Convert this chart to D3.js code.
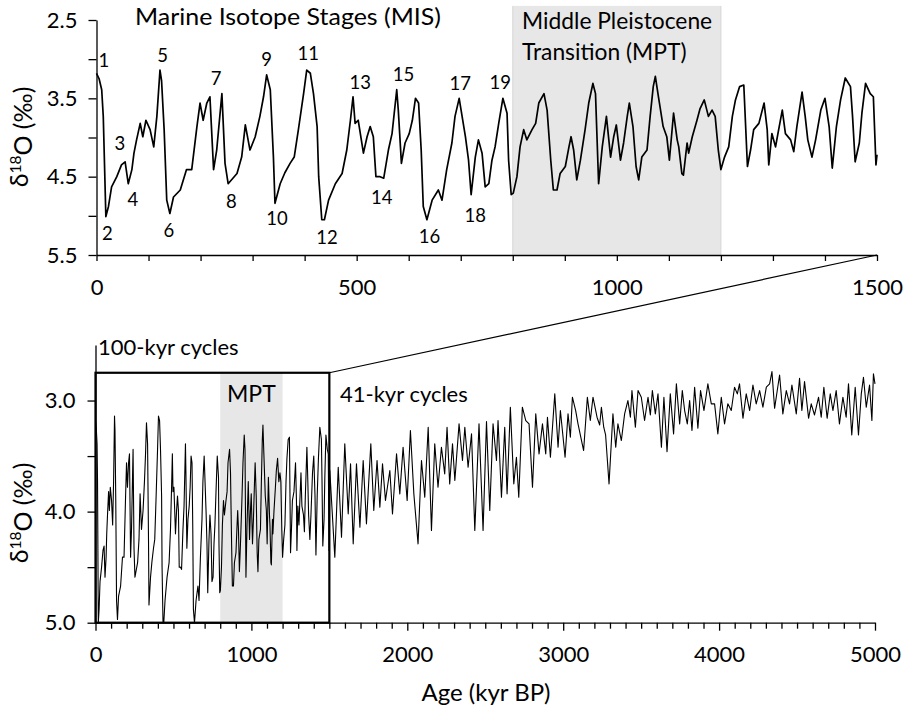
<!DOCTYPE html>
<html lang="en">
<head>
<meta charset="utf-8">
<title>Benthic d18O stack</title>
<script src="https://d3js.org/d3.v7.min.js"></script>
<style>
body { margin: 0; background: #fff; }
svg { display: block; font-family: Lato, "Open Sans", sans-serif; }
.axis path, .axis line { stroke: #000; stroke-width: 1.3; }
.axis text { font-size: 22px; fill: #000; font-family: Lato, "Open Sans", sans-serif; }
.curve { fill: none; stroke: #000; stroke-linejoin: round; }
.note { fill: #000; }
</style>
</head>
<body>
<div id="container"></div>
<script>
var w = 908;
var h = 712;

// 0-1500 kyr BP
var ageRecent = [0,5,10,13,18,23,29,39,48,55,61,68,72,77,84,89,95,103,110,116,122,125,130,135,141,148,161,173,183,193,199,205,212,218,225,231,241,247,253,270,279,286,295,305,314,321,327,334,340,343,353,362,372,380,388,398,404,411,417,424,427,433,438,446,459,472,481,488,493,497,503,513,520,526,532,537,545,552,561,568,577,580,586,593,601,607,613,619,624,628,635,645,657,664,673,683,689,697,709,715,720,728,734,741,747,754,760,766,773,781,789,792,797,801,808,814,821,827,837,844,850,860,866,873,878,885,891,901,908,912,917,923,930,939,946,954,959,965,972,980,988,994,999,1007,1013,1020,1024,1031,1037,1042,1048,1058,1064,1070,1074,1080,1089,1096,1101,1109,1116,1119,1125,1128,1135,1138,1145,1154,1160,1168,1176,1183,1189,1195,1200,1207,1215,1222,1228,1236,1244,1251,1257,1263,1273,1283,1289,1292,1298,1305,1311,1318,1324,1334,1340,1346,1356,1362,1367,1375,1382,1392,1400,1408,1414,1422,1430,1439,1449,1453,1458,1466,1471,1478,1487,1493,1498,1500];
var d18oRecent = [3.18,3.25,3.39,3.73,5.01,4.88,4.63,4.50,4.35,4.31,4.59,4.41,4.20,4.03,3.82,3.99,3.78,3.90,4.12,3.73,3.14,3.27,3.90,4.80,4.97,4.76,4.67,4.41,4.41,3.86,3.56,3.78,3.56,3.48,4.41,4.16,3.44,4.33,4.59,4.46,4.25,3.84,4.16,3.99,3.73,3.48,3.20,3.39,4.25,4.84,4.59,4.45,4.33,4.25,3.90,3.44,3.14,3.18,3.44,3.86,4.50,5.05,5.05,4.80,4.59,4.46,4.16,3.78,3.48,3.82,3.78,4.20,3.99,3.86,3.99,4.50,4.50,4.52,4.16,3.95,3.39,3.65,4.33,4.07,3.95,3.78,3.50,3.56,4.16,4.88,5.05,4.80,4.67,4.80,4.41,4.07,3.73,3.50,3.99,4.29,4.73,4.25,4.03,4.20,4.63,4.59,4.29,4.12,3.82,3.50,3.69,4.29,4.73,4.71,4.50,4.12,3.90,4.03,3.90,3.82,3.56,3.44,3.65,4.29,4.67,4.67,4.46,4.37,4.12,3.99,4.16,4.54,4.29,3.90,3.56,3.31,3.44,4.59,4.12,3.73,4.25,3.99,3.84,4.29,4.07,3.73,3.56,3.86,4.37,4.54,4.25,4.16,3.73,3.35,3.22,3.48,3.86,3.99,4.29,3.69,4.03,4.12,4.46,4.48,4.07,4.20,3.99,3.78,3.63,3.52,3.73,3.65,3.73,4.16,4.41,4.25,4.12,3.73,3.52,3.35,3.33,4.37,4.16,3.90,3.82,3.56,3.90,4.35,3.95,4.12,3.90,3.65,3.95,4.03,4.18,3.86,3.42,3.73,4.03,4.25,4.03,3.65,3.50,3.86,4.39,3.86,3.52,3.24,3.35,3.73,4.31,4.07,3.69,3.31,3.44,3.48,4.35,4.22];

// 1500-5000 kyr BP
var ageOld = [1503,1535,1557,1578,1599,1621,1636,1653,1674,1696,1717,1738,1766,1785,1806,1824,1841,1860,1888,1905,1931,1952,1973,1999,2020,2042,2069,2091,2112,2134,2155,2176,2197,2219,2240,2255,2272,2290,2305,2332,2354,2369,2390,2412,2433,2460,2486,2508,2529,2550,2572,2582,2604,2625,2640,2661,2683,2700,2715,2738,2760,2781,2803,2824,2845,2867,2888,2899,2918,2946,2967,2982,3012,3031,3046,3059,3080,3095,3131,3155,3174,3191,3217,3234,3245,3260,3272,3294,3319,3337,3351,3373,3394,3415,3431,3441,3463,3480,3501,3522,3544,3559,3572,3591,3608,3630,3646,3666,3687,3708,3726,3747,3764,3779,3796,3811,3826,3843,3864,3881,3903,3928,3950,3971,3992,4014,4035,4056,4078,4099,4117,4131,4153,4174,4196,4217,4238,4260,4281,4303,4324,4339,4356,4373,4388,4409,4431,4452,4467,4495,4516,4531,4548,4574,4591,4612,4638,4655,4672,4693,4713,4730,4751,4772,4794,4815,4830,4851,4873,4894,4912,4926,4944,4965,4980,4990,5000];
var d18oOld = [3.63,4.41,3.60,4.23,3.39,4.02,3.57,4.29,3.57,4.14,3.54,4.11,3.39,3.99,3.54,3.96,3.57,3.90,3.63,4.02,3.48,3.84,3.42,3.90,3.27,3.84,4.29,3.54,3.87,3.24,4.17,3.39,3.78,3.42,3.66,3.24,3.75,3.39,3.72,3.21,3.54,3.24,3.60,3.30,4.17,3.21,4.17,3.19,3.99,3.21,3.54,3.18,3.87,3.24,3.84,3.06,3.75,3.51,3.87,3.06,3.18,3.21,3.78,3.12,3.48,3.21,3.48,3.15,3.51,2.94,3.42,3.09,3.51,3.12,3.33,2.97,3.09,3.21,3.45,2.97,3.18,2.97,3.15,3.22,3.06,3.24,3.31,3.75,3.12,3.42,3.21,3.36,3.12,3.00,3.15,2.91,3.24,2.91,2.97,3.18,2.97,3.13,2.91,3.12,2.94,3.42,2.97,3.46,2.94,3.30,2.85,3.21,2.91,3.09,3.21,3.00,3.27,2.88,3.25,2.91,3.09,2.85,3.03,3.03,3.30,2.97,3.21,3.03,3.09,2.88,2.94,2.85,3.16,2.94,3.09,2.86,3.03,2.91,3.06,2.88,2.85,2.74,3.07,2.91,2.77,3.12,2.91,3.03,2.86,3.12,2.80,3.09,2.83,3.16,3.03,3.13,2.97,3.15,2.88,3.16,2.94,3.09,2.91,3.21,2.97,3.15,2.85,3.31,2.88,3.31,2.94,2.79,3.06,2.86,3.18,2.76,2.85];

// Marine Isotope Stage labels (label centre in age / d18O)
var misNames = ["1","2","3","4","5","6","7","8","9","10","11","12","13","14","15","16","17","18","19"];
var misAge = [14,21,45,70,127,139,230,259,327,347,407,443,507,548,590,640,699,728,776];
var misVal = [3.02,5.22,4.08,4.79,2.95,5.18,3.25,4.81,3.00,5.03,2.93,5.27,3.29,4.76,3.19,5.26,3.31,4.99,3.29];

var mptRange = [800, 1200];
var zoomRange = [0, 1500];
var topYTicks = [2.5, 3.0, 3.5, 4.0, 4.5, 5.0, 5.5];
var topYLabels = [2.5, 3.5, 4.5, 5.5];
var topXLabels = [0, 500, 1000, 1500];
var botYTicks = [3.0, 3.5, 4.0, 4.5, 5.0];
var botYLabels = [3.0, 4.0, 5.0];
var botXLabels = [0, 1000, 2000, 3000, 4000, 5000];

var recent = ageRecent.map(function(a, i) { return {age: a, v: d18oRecent[i]}; });
var old = ageOld.map(function(a, i) { return {age: a, v: d18oOld[i]}; });
var full = recent.concat(old);

var svg = d3.select("div#container").append("svg")
    .attr("width", w).attr("height", h)
    .attr("viewBox", "0 0 " + w + " " + h)
    .style("background-color", "#ffffff");

// ---------- upper panel ----------
var x1 = d3.scaleLinear().domain([0, 1500]).range([96.5, 877]);
var y1 = d3.scaleLinear().domain([2.5, 5.5]).range([20, 255]);

svg.append("rect")
    .attr("x", x1(mptRange[0])).attr("y", y1(2.32))
    .attr("width", x1(mptRange[1]) - x1(mptRange[0]))
    .attr("height", y1(5.5) - y1(2.32))
    .attr("fill", "#e7e7e7");
svg.selectAll(".mptEdge").data(mptRange).enter().append("line")
    .attr("x1", function(d) { return x1(d); }).attr("x2", function(d) { return x1(d); })
    .attr("y1", y1(2.32)).attr("y2", y1(5.5))
    .attr("stroke", "#d6d6d6").attr("stroke-width", 1);

var line1 = d3.line().x(function(d) { return x1(d.age); }).y(function(d) { return y1(d.v); });
svg.append("path").datum(recent).attr("class", "curve")
    .attr("stroke-width", 1.7).attr("d", line1);

svg.append("g").attr("class", "axis")
    .attr("transform", "translate(" + x1(0) + ",0)")
    .call(d3.axisLeft(y1).tickValues(topYTicks).tickSize(8).tickSizeOuter(0).tickPadding(11)
        .tickFormat(function(d) { return topYLabels.indexOf(d) >= 0 ? d3.format(".1f")(d) : ""; }));

svg.append("g").attr("class", "axis")
    .attr("transform", "translate(0," + y1(5.5) + ")")
    .call(d3.axisBottom(x1).tickValues(d3.range(0, 1501, 100)).tickSize(6).tickSizeOuter(0).tickPadding(18)
        .tickFormat(function(d) { return topXLabels.indexOf(d) >= 0 ? d : ""; }));

svg.selectAll(".mis").data(misNames).enter().append("text")
    .attr("class", "note")
    .attr("x", function(d, i) { return x1(misAge[i]); })
    .attr("y", function(d, i) { return y1(misVal[i]); })
    .attr("dy", "0.36em")
    .attr("text-anchor", "middle")
    .style("font-size", "18.5px")
    .text(function(d) { return d; });

svg.append("text").attr("class", "note")
    .attr("x", 135).attr("y", 25)
    .attr("textLength", 306).attr("lengthAdjust", "spacingAndGlyphs")
    .style("font-size", "23px")
    .text("Marine Isotope Stages (MIS)");

svg.append("text").attr("class", "note")
    .attr("x", 522).attr("y", 29)
    .style("font-size", "22.8px")
    .text("Middle Pleistocene");
svg.append("text").attr("class", "note")
    .attr("x", 522).attr("y", 60)
    .style("font-size", "22.8px")
    .text("Transition (MPT)");

// ---------- lower panel ----------
var x2 = d3.scaleLinear().domain([0, 5000]).range([95.5, 875]);
var y2 = d3.scaleLinear().domain([2.5, 5.0]).range([345, 622.7]).clamp(true);
var boxTop = 2.75;

svg.append("rect")
    .attr("x", x2(mptRange[0])).attr("y", y2(boxTop))
    .attr("width", x2(mptRange[1]) - x2(mptRange[0]))
    .attr("height", y2(5.0) - y2(boxTop))
    .attr("fill", "#e7e7e7");

var line2 = d3.line().x(function(d) { return x2(d.age); }).y(function(d) { return y2(d.v); });
svg.append("path").datum(full).attr("class", "curve")
    .attr("stroke-width", 1.1).attr("d", line2);

svg.append("rect")
    .attr("x", x2(zoomRange[0])).attr("y", y2(boxTop))
    .attr("width", x2(zoomRange[1]) - x2(zoomRange[0]))
    .attr("height", y2(5.0) - y2(boxTop))
    .attr("fill", "none").attr("stroke", "#000").attr("stroke-width", 2.2);

// connector from the box to the upper axis
svg.append("line")
    .attr("x1", x2(zoomRange[1])).attr("y1", y2(boxTop))
    .attr("x2", x1(zoomRange[1])).attr("y2", y1(5.5))
    .attr("stroke", "#000").attr("stroke-width", 1.2);

svg.append("g").attr("class", "axis")
    .attr("transform", "translate(" + x2(0) + ",0)")
    .call(d3.axisLeft(y2).tickValues(botYTicks).tickSize(8).tickSizeOuter(0).tickPadding(12)
        .tickFormat(function(d) { return botYLabels.indexOf(d) >= 0 ? d3.format(".1f")(d) : ""; }));

var xAxis2 = svg.append("g").attr("class", "axis")
    .attr("transform", "translate(0," + y2(5.0) + ")")
    .call(d3.axisBottom(x2).tickValues(d3.range(0, 5001, 100)).tickSize(6).tickSizeOuter(0).tickPadding(18)
        .tickFormat(function(d) { return botXLabels.indexOf(d) >= 0 ? d : ""; }));
xAxis2.selectAll(".tick line").attr("y2", function(d) { return d % 1000 === 0 ? 8 : 6; });

svg.append("text").attr("class", "note")
    .attr("x", 98).attr("y", 355)
    .style("font-size", "22px")
    .text("100-kyr cycles");
svg.append("text").attr("class", "note")
    .attr("x", x2(1000)).attr("y", 402)
    .attr("text-anchor", "middle")
    .style("font-size", "23px")
    .text("MPT");
svg.append("text").attr("class", "note")
    .attr("x", 340).attr("y", 402)
    .style("font-size", "22px")
    .text("41-kyr cycles");

svg.append("text").attr("class", "note")
    .attr("x", 486).attr("y", 701)
    .attr("text-anchor", "middle")
    .style("font-size", "24px")
    .text("Age (kyr BP)");

// y titles
[137, 513].forEach(function(cy) {
    var t = svg.append("text").attr("class", "note")
        .attr("transform", "translate(28," + cy + ") rotate(-90)")
        .attr("text-anchor", "middle")
        .style("font-size", "25px");
    t.append("tspan").text("\u03B4");
    t.append("tspan").attr("dy", "-0.45em").style("font-size", "15.5px").text("18");
    t.append("tspan").attr("dy", "0.45em").text("O (\u2030)");
});
</script>
</body>
</html>
